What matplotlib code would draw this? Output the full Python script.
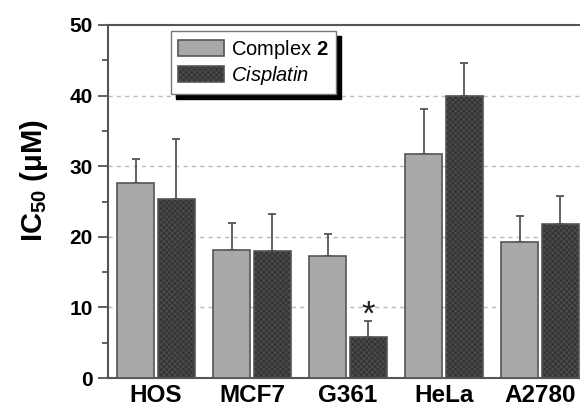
import numpy as np
import matplotlib
matplotlib.use("Agg")
import matplotlib.pyplot as plt

plt.rcParams['mathtext.fontset'] = 'custom'
plt.rcParams['mathtext.rm'] = 'Liberation Sans'
plt.rcParams['mathtext.it'] = 'Liberation Sans:italic'
plt.rcParams['mathtext.bf'] = 'Liberation Sans:bold'
plt.rcParams['font.family'] = ['Liberation Sans', 'DejaVu Sans']
plt.rcParams['hatch.linewidth'] = 0.45

# ---- data ----
cell_lines = ["HOS", "MCF7", "G361", "HeLa", "A2780"]
complex2 = [27.6, 18.2, 17.3, 31.7, 19.2]
complex2_err = [3.4, 3.7, 3.1, 6.4, 3.7]
cisplatin = [25.4, 18.0, 5.8, 40.0, 21.8]
cisplatin_err = [8.5, 5.2, 2.3, 4.6, 4.0]
series_labels = ["Complex $\\mathbf{2}$", "$\\mathit{Cisplatin}$"]
yticks = [0, 10, 20, 30, 40, 50]
significant = [False, False, True, False, False]

fig = plt.figure(figsize=(5.8, 4.09), dpi=100)
ax = fig.add_axes([108/580, 31/409, 480/580, 353/409])

x = np.arange(len(cell_lines))
bw = 0.385
off = 0.213
spine_c = '#555555'

ax.bar(x - off, complex2, bw, color='#a9a9a9', edgecolor=spine_c,
       linewidth=1.2, zorder=3, label=series_labels[0])
ax.bar(x + off, cisplatin, bw, color='#353535', edgecolor='#555555',
       hatch='xxxxxx', linewidth=1.2, zorder=3, label=series_labels[1])

ax.errorbar(x - off, complex2, yerr=[np.zeros(len(x)), complex2_err], fmt='none',
            ecolor=spine_c, elinewidth=1.3, capsize=2.9, capthick=1.3, zorder=2)
ax.errorbar(x + off, cisplatin, yerr=[np.zeros(len(x)), cisplatin_err], fmt='none',
            ecolor=spine_c, elinewidth=1.3, capsize=2.9, capthick=1.3, zorder=2)

for i, sig in enumerate(significant):
    if sig:
        ax.text(x[i] + off, cisplatin[i] + cisplatin_err[i] + 3.2, '*',
                ha='center', va='top', fontsize=25, color='#222222')

ax.set_xlim(-0.5, 4.5)
ax.set_ylim(0, 50)
ax.set_yticks(yticks)
ax.set_yticks([5, 15, 25, 35, 45], minor=True)
ax.set_xticks(x)
ax.set_xticklabels(cell_lines, fontsize=17.5, fontweight='bold')
ax.set_yticklabels([str(t) for t in yticks], fontsize=15, fontweight='bold')
ax.tick_params(axis='x', length=0, pad=4.5)
ax.tick_params(axis='y', which='major', length=7, width=1.3, color=spine_c, pad=4, direction='out')
ax.tick_params(axis='y', which='minor', length=4, width=1.3, color=spine_c, direction='out')

for s in ['left', 'bottom', 'top', 'right']:
    ax.spines[s].set_color(spine_c)
    ax.spines[s].set_linewidth(1.5)

for gy in [10, 20, 30, 40]:
    ax.axhline(gy, color='#bbbbbb', linewidth=1.0, linestyle=(0, (3, 3)), zorder=1)

fig.text(34/580, 1 - 180/409, "IC$_{\\mathbf{50}}$ (μM)", rotation=90, ha='center', va='center',
         fontsize=21, fontweight='bold')

leg = ax.legend(loc='upper left', bbox_to_anchor=(63/480, 1 - 6/353), borderaxespad=0,
                fontsize=14.5, handlelength=2.3, handleheight=0.85, handletextpad=0.35,
                labelspacing=0.15, borderpad=0.35, fancybox=False, framealpha=1,
                edgecolor='#777777',
                shadow={'color': 'black', 'alpha': 1, 'ox': 3.6, 'oy': -3.6})
leg.get_frame().set_linewidth(1.0)

fig.savefig("out.png", dpi=100)
